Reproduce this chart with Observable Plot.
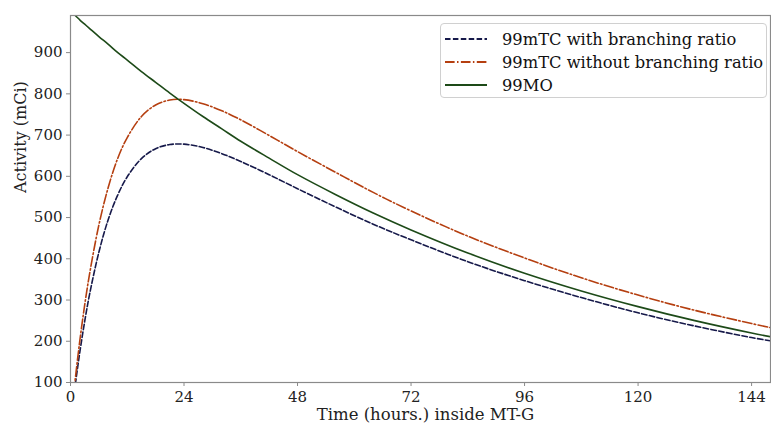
<!DOCTYPE html>
<html>
<head>
<meta charset="utf-8">
<script src="https://cdn.jsdelivr.net/npm/d3@7"></script>
<script src="https://cdn.jsdelivr.net/npm/@observablehq/plot@0.6"></script>
<style>
  html, body { margin: 0; padding: 0; background: #fff; }
  #wrap { position: relative; width: 771px; height: 425px; font-family: "DejaVu Serif", serif; }
  #legend { position: absolute; left: 440px; top: 23px; width: 327px; height: 75px;
            border: 1px solid #d0d0d0; border-radius: 4px; background: rgba(255,255,255,0.85);
            box-sizing: border-box; }
  .row { position: absolute; left: 0; height: 20px; display: flex; align-items: center; }
  .row svg { margin-left: 4px; }
  .row span { margin-left: 15px; font-size: 16.3px; color: #111; white-space: nowrap; }
</style>
</head>
<body>
<div id="wrap">
  <div id="chart"></div>
  <div id="legend"></div>
</div>
<script>
// Time samples (hours)
const hours = [0, 1, 2, 3, 4, 6, 8, 10, 12, 15, 18, 21, 24, 28, 32, 36, 42, 48, 56, 64, 72, 84, 96, 108, 120, 132, 144, 148];
// 99mTC with branching ratio (mCi)
const tcWith = [0, 93, 176, 248, 312, 416, 496, 555, 599, 643, 667, 677, 678, 670, 655, 636, 604, 570, 526, 484, 446, 393, 347, 306, 269, 237, 209, 201];
// 99mTC without branching ratio (mCi)
const tcWithout = [0, 108, 204, 288, 361, 482, 574, 644, 694, 745, 773, 785, 786, 776, 759, 737, 699, 660, 610, 561, 516, 455, 402, 354, 312, 275, 243, 233];
// 99MO (mCi)
const mo = [1000, 990, 979, 969, 959, 939, 920, 900, 882, 854, 828, 802, 777, 745, 715, 685, 644, 604, 556, 511, 470, 414, 365, 322, 284, 250, 220, 211];

const seriesNames = ["99mTC with branching ratio", "99mTC without branching ratio", "99MO"];
const seriesColors = ["#16194a", "#b53f10", "#1d4a18"];
const seriesDash = ["5.5,2.4", "9.6,2.4,1.5,2.4", null];
const xTicks = [0, 24, 48, 72, 96, 120, 144];
const yTicks = [100, 200, 300, 400, 500, 600, 700, 800, 900];
const xLabel = "Time (hours.) inside MT-G";
const yLabel = "Activity (mCi)";

const seriesValues = [tcWith, tcWithout, mo];
const rows = [];
seriesValues.forEach((vals, s) => hours.forEach((h, i) => rows.push({series: seriesNames[s], t: h, v: vals[i]})));

const fontSize = 15;
const lineMarks = seriesNames.map((name, s) =>
  Plot.line(rows.filter(d => d.series === name), {
    x: "t", y: "v", stroke: seriesColors[s], strokeWidth: 1.6,
    strokeDasharray: seriesDash[s] || undefined, curve: "catmull-rom", clip: true
  })
);

const chart = Plot.plot({
  width: 771, height: 425,
  marginLeft: 70, marginRight: 1, marginTop: 15, marginBottom: 43,
  style: { fontFamily: "DejaVu Serif, serif", fontSize: fontSize + "px", color: "#222", background: "#fff" },
  x: { domain: [0, 148] },
  y: { domain: [100, 990] },
  marks: [
    ...lineMarks,
    Plot.frame({ stroke: "#8a8a8a", strokeWidth: 1.2 }),
    Plot.axisX({ ticks: xTicks, tickSize: 4, tickPadding: 5, label: null, stroke: "#8a8a8a", fontSize: fontSize, tickFormat: d => String(d) }),
    Plot.axisY({ ticks: yTicks, tickSize: 4, tickPadding: 4, label: null, stroke: "#8a8a8a", fontSize: fontSize, tickFormat: d => String(d) }),
    Plot.text([xLabel], { frameAnchor: "bottom", lineAnchor: "middle", dx: 5, dy: 32, text: d => d, fontSize: 16.5, fill: "#222" }),
    Plot.text([yLabel], { frameAnchor: "left", lineAnchor: "middle", dx: -50, dy: -6, rotate: -90, text: d => d, fontSize: 16, fill: "#222" })
  ]
});
document.getElementById("chart").appendChild(chart);

// Legend
const legend = document.getElementById("legend");
seriesNames.forEach((name, s) => {
  const row = document.createElement("div");
  row.className = "row";
  row.style.top = (5 + s * 23) + "px";
  const sw = `<svg width="42" height="10"><line x1="0" y1="5" x2="42" y2="5" stroke="${seriesColors[s]}" stroke-width="1.8" ${seriesDash[s] ? `stroke-dasharray="${seriesDash[s]}"` : ""}/></svg>`;
  row.innerHTML = sw + `<span>${name}</span>`;
  legend.appendChild(row);
});
</script>
</body>
</html>
